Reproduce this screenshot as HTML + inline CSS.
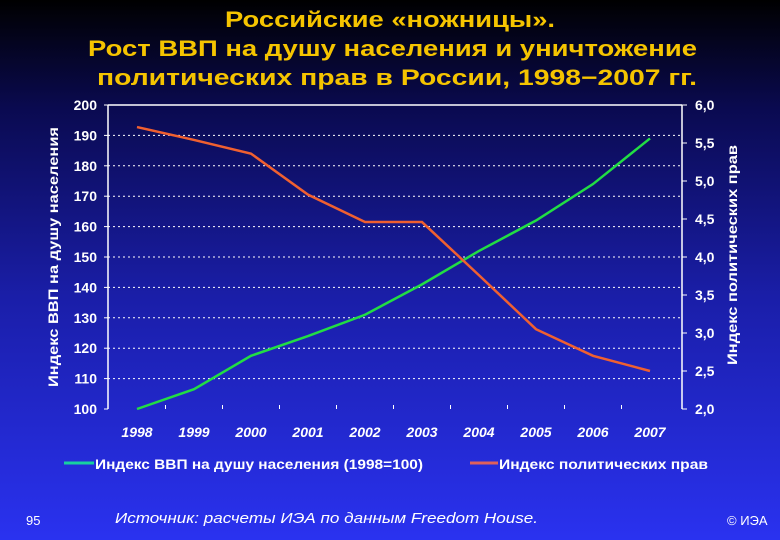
<!DOCTYPE html>
<html><head><meta charset="utf-8"><style>
body{margin:0;width:780px;height:540px;overflow:hidden;background:linear-gradient(#000 0%,#0a0a50 20%,#1a1ea8 55%,#2a32f0 100%);font-family:"Liberation Sans",sans-serif;}
</style></head><body>
<svg width="780" height="540" style="position:absolute;left:0;top:0">
<g id="title" fill="#f5c400" font-weight="bold" font-size="22" font-family="'Liberation Sans',sans-serif">
<text x="225" y="27" textLength="330" lengthAdjust="spacingAndGlyphs">Российские «ножницы».</text>
<text x="88" y="56" textLength="609" lengthAdjust="spacingAndGlyphs">Рост ВВП на душу населения и уничтожение</text>
<text x="97" y="85" textLength="600" lengthAdjust="spacingAndGlyphs">политических прав в России, 1998−2007 гг.</text>
</g>
<g id="plot"></g>
<text transform="translate(58,257) rotate(-90)" fill="#fff" font-weight="bold" font-size="14" text-anchor="middle" textLength="260" lengthAdjust="spacingAndGlyphs">Индекс ВВП на душу населения</text>
<text transform="translate(737,255) rotate(-90)" fill="#fff" font-weight="bold" font-size="14" text-anchor="middle" textLength="220" lengthAdjust="spacingAndGlyphs">Индекс политических прав</text>
<g font-size="14" font-weight="bold" fill="#fff">
<line x1="64" y1="463" x2="94" y2="463" stroke="#17d0a0" stroke-width="3"/>
<text x="95" y="469" textLength="328" lengthAdjust="spacingAndGlyphs">Индекс ВВП на душу населения (1998=100)</text>
<line x1="470" y1="463" x2="498" y2="463" stroke="#e0605a" stroke-width="3"/>
<text x="499" y="469" textLength="209" lengthAdjust="spacingAndGlyphs">Индекс политических прав</text>
</g>
<text x="26" y="525" fill="#fff" font-size="13">95</text>
<text x="115" y="523" fill="#fff" font-size="15" font-style="italic" textLength="423" lengthAdjust="spacingAndGlyphs">Источник: расчеты ИЭА по данным Freedom House.</text>
<text x="727" y="525" fill="#fff" font-size="13">© ИЭА</text>
</svg>
<script>
const years=["1998","1999","2000","2001","2002","2003","2004","2005","2006","2007"];
const gdp=[100,106.5,117.5,124,131,141,152,162,174,189];
const rights=[5.71,5.54,5.36,4.82,4.46,4.46,3.76,3.05,2.70,2.5];
const leftTicks=[100,110,120,130,140,150,160,170,180,190,200];
const rightTicks=["2,0","2,5","3,0","3,5","4,0","4,5","5,0","5,5","6,0"];
const NS="http://www.w3.org/2000/svg";
const g=document.getElementById('plot');
const L=108,R=682,T=105,B=409;
const x=i=>137+i*57;
const yL=v=>B-(v-100)/100*(B-T);
const yR=v=>B-(v-2)/4*(B-T);
function mk(t,a,p){const e=document.createElementNS(NS,t);for(const k in a)e.setAttribute(k,a[k]);(p||g).appendChild(e);return e;}
let e=mk('line',{x1:L,y1:T,x2:R,y2:T,stroke:'#fff','stroke-width':1.5});


e=mk('line',{x1:L,y1:T,x2:L,y2:B,stroke:'#fff','stroke-width':1.5});


e=mk('line',{x1:R,y1:T,x2:R,y2:B,stroke:'#fff','stroke-width':1.5});


leftTicks.forEach((v)=>{const y=yL(v);
 if(v>100&&v<200){e=mk('line',{x1:L,y1:y,x2:R,y2:y,stroke:'#fff','stroke-width':1,'stroke-dasharray':'2,3'});
 
 }
 e=mk('text',{x:L-11,y:y+5,fill:'#fff','font-size':14,'font-weight':'bold','text-anchor':'end'});e.textContent=v;
 
 
 mk('line',{x1:L-4,y1:y,x2:L,y2:y,stroke:'#fff'});});
rightTicks.forEach((s)=>{const y=yR(parseFloat(s.replace(',','.')));
 e=mk('text',{x:R+13,y:y+5,fill:'#fff','font-size':14,'font-weight':'bold'});e.textContent=s;
 
 
 mk('line',{x1:R,y1:y,x2:R+5,y2:y,stroke:'#fff'});});
years.forEach((s,i)=>{
 e=mk('text',{x:x(i),y:437,fill:'#fff','font-size':14,'font-weight':'bold','font-style':'italic','text-anchor':'middle'});e.textContent=s;
 
 
 if(i>0)mk('line',{x1:x(i)-28.5,y1:B-4,x2:x(i)-28.5,y2:B,stroke:'#fff'});});
e=mk('polyline',{points:gdp.map((v,i)=>x(i)+','+yL(v)).join(' '),fill:'none',stroke:'#22dd44','stroke-width':2.5});


e=mk('polyline',{points:rights.map((v,i)=>x(i)+','+yR(v)).join(' '),fill:'none',stroke:'#f06030','stroke-width':2.5});


</script>
</body></html>
